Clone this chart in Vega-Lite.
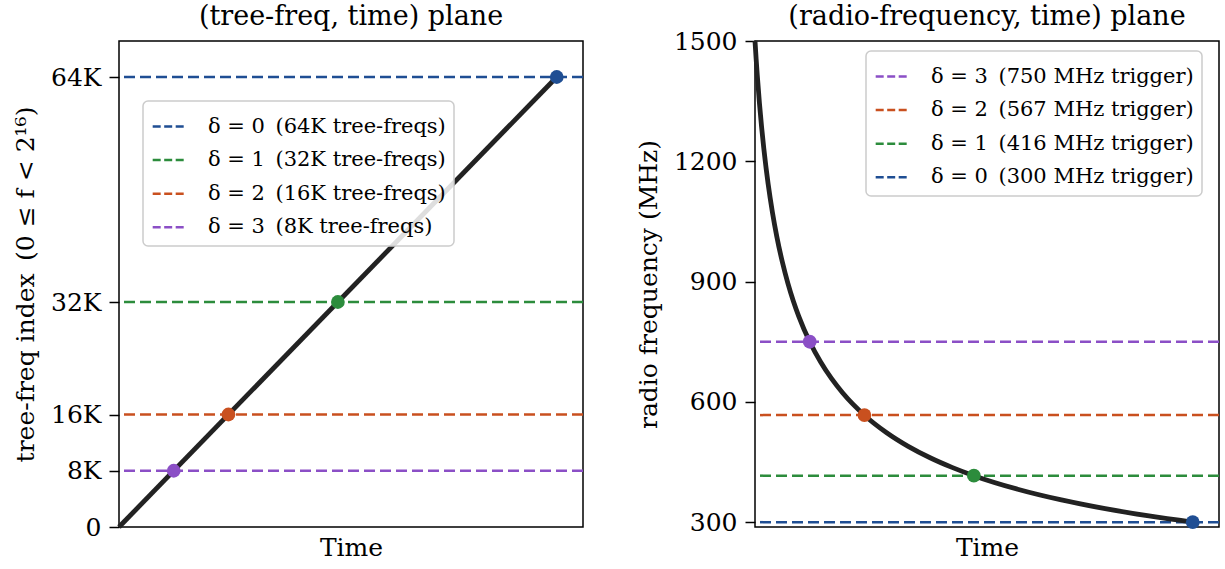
{
  "$schema": "https://vega.github.io/schema/vega-lite/v6.json",
  "padding": {"left": 12, "top": 2, "right": 5, "bottom": 5},
  "background": "white",
  "datasets": {
    "leftTrig": [
      {"label": "δ = 0\u2002(64K tree-freqs)", "f": 65536, "t": 1},
      {"label": "δ = 1\u2002(32K tree-freqs)", "f": 32768, "t": 0.5},
      {"label": "δ = 2\u2002(16K tree-freqs)", "f": 16384, "t": 0.25},
      {"label": "δ = 3\u2002(8K tree-freqs)", "f": 8192, "t": 0.125}
    ],
    "leftLine": [
      {"t": 0, "f": 0},
      {"t": 1, "f": 65536}
    ],
    "rightTrig": [
      {"label": "δ = 3\u2002(750 MHz trigger)", "freq": 750, "t": 0.125},
      {"label": "δ = 2\u2002(567 MHz trigger)", "freq": 567, "t": 0.25},
      {"label": "δ = 1\u2002(416 MHz trigger)", "freq": 416, "t": 0.5},
      {"label": "δ = 0\u2002(300 MHz trigger)", "freq": 300, "t": 1}
    ],
    "rightCurve": [
      {"t": 0, "freq": 1500},
      {"t": 0.0025, "freq": 1456.9},
      {"t": 0.005, "freq": 1417.4},
      {"t": 0.01, "freq": 1347.0},
      {"t": 0.015, "freq": 1286.2},
      {"t": 0.02, "freq": 1233.0},
      {"t": 0.03, "freq": 1143.7},
      {"t": 0.04, "freq": 1071.4},
      {"t": 0.05, "freq": 1011.3},
      {"t": 0.0625, "freq": 948.7},
      {"t": 0.075, "freq": 896.4},
      {"t": 0.0875, "freq": 851.9},
      {"t": 0.1, "freq": 813.5},
      {"t": 0.125, "freq": 750.0},
      {"t": 0.15, "freq": 699.4},
      {"t": 0.175, "freq": 657.8},
      {"t": 0.2, "freq": 622.8},
      {"t": 0.25, "freq": 566.9},
      {"t": 0.3, "freq": 523.8},
      {"t": 0.35, "freq": 489.2},
      {"t": 0.4, "freq": 460.7},
      {"t": 0.45, "freq": 436.7},
      {"t": 0.5, "freq": 416.0},
      {"t": 0.6, "freq": 382.2},
      {"t": 0.7, "freq": 355.5},
      {"t": 0.8, "freq": 333.7},
      {"t": 0.9, "freq": 315.5},
      {"t": 1.0, "freq": 300.0}
    ]
  },
  "spacing": 50,
  "resolve": {
    "scale": {"color": "independent", "x": "independent", "y": "independent"},
    "legend": {"color": "independent"}
  },
  "hconcat": [
    {
      "width": 464,
      "height": 486,
      "title": {"text": "(tree-freq, time) plane", "offset": 10},
      "layer": [
        {
          "data": {"name": "leftTrig"},
          "mark": {"type": "rule", "strokeWidth": 2.5, "strokeDash": [11, 5]},
          "encoding": {
            "y": {
              "field": "f", "type": "quantitative",
              "scale": {"domain": [0, 70779], "nice": false, "zero": false},
              "axis": {
                "title": "tree-freq index\u2002(0 ≤ f < 2¹⁶)",
                "titleFont": "DejaVu Serif",
                "values": [0, 8192, 16384, 32768, 65536],
                "labelExpr": "datum.value == 0 ? '0' : (datum.value / 1024) + 'K'"
              }
            },
            "color": {
              "field": "label", "type": "nominal",
              "scale": {
                "domain": ["δ = 0\u2002(64K tree-freqs)", "δ = 1\u2002(32K tree-freqs)", "δ = 2\u2002(16K tree-freqs)", "δ = 3\u2002(8K tree-freqs)"],
                "range": ["#1f4e93", "#2c8c3c", "#c9501f", "#8b4fc6"]
              },
              "legend": {"title": null, "orient": "none", "legendX": 24, "legendY": 60}
            }
          }
        },
        {
          "data": {"name": "leftLine"},
          "mark": {"type": "line", "color": "#222222", "strokeWidth": 4.8},
          "encoding": {
            "x": {
              "field": "t", "type": "quantitative",
              "scale": {"domain": [0, 1.06], "nice": false},
              "axis": {"title": "Time", "titleFont": "DejaVu Serif", "ticks": false, "labels": false}
            },
            "y": {"field": "f", "type": "quantitative"}
          }
        },
        {
          "data": {"name": "leftTrig"},
          "mark": {"type": "point", "filled": true, "size": 190, "opacity": 1},
          "encoding": {
            "x": {"field": "t", "type": "quantitative"},
            "y": {"field": "f", "type": "quantitative"},
            "color": {"field": "label", "type": "nominal", "legend": null}
          }
        }
      ]
    },
    {
      "width": 464,
      "height": 486,
      "title": {"text": "(radio-frequency, time) plane", "offset": -2},
      "layer": [
        {
          "data": {"name": "rightTrig"},
          "mark": {"type": "rule", "strokeWidth": 2.5, "strokeDash": [11, 5]},
          "encoding": {
            "y": {
              "field": "freq", "type": "quantitative",
              "scale": {"domain": [288, 1500], "nice": false, "zero": false},
              "axis": {
                "title": "radio frequency (MHz)",
                "titleFont": "DejaVu Serif",
                "values": [300, 600, 900, 1200, 1500],
                "format": "d"
              }
            },
            "color": {
              "field": "label", "type": "nominal",
              "scale": {
                "domain": ["δ = 3\u2002(750 MHz trigger)", "δ = 2\u2002(567 MHz trigger)", "δ = 1\u2002(416 MHz trigger)", "δ = 0\u2002(300 MHz trigger)"],
                "range": ["#8b4fc6", "#c9501f", "#2c8c3c", "#1f4e93"]
              },
              "legend": {"title": null, "orient": "none", "legendX": 111, "legendY": 10}
            }
          }
        },
        {
          "data": {"name": "rightCurve"},
          "mark": {"type": "line", "color": "#222222", "strokeWidth": 4.8, "interpolate": "monotone"},
          "encoding": {
            "x": {
              "field": "t", "type": "quantitative",
              "scale": {"domain": [0, 1.06], "nice": false},
              "axis": {"title": "Time", "titleFont": "DejaVu Serif", "ticks": false, "labels": false}
            },
            "y": {"field": "freq", "type": "quantitative"}
          }
        },
        {
          "data": {"name": "rightTrig"},
          "mark": {"type": "point", "filled": true, "size": 190, "opacity": 1},
          "encoding": {
            "x": {"field": "t", "type": "quantitative"},
            "y": {"field": "freq", "type": "quantitative"},
            "color": {"field": "label", "type": "nominal", "legend": null}
          }
        }
      ]
    }
  ],
  "config": {
    "font": "DejaVu Serif",
    "view": {"stroke": "black", "strokeWidth": 1.5},
    "title": {"font": "DejaVu Serif", "fontSize": 27, "fontWeight": "normal", "color": "black"},
    "axis": {
      "labelFont": "DejaVu Serif", "titleFont": "DejaVu Serif",
      "labelFontSize": 25, "titleFontSize": 25, "titleFontWeight": "normal",
      "labelColor": "black", "titleColor": "black",
      "tickColor": "black", "tickSize": 10, "tickWidth": 1.5,
      "domain": false, "grid": false,
      "labelPadding": 8, "titlePadding": 12
    },
    "axisX": {"titlePadding": 8},
    "legend": {
      "labelFont": "DejaVu Serif", "labelFontSize": 21, "labelColor": "black",
      "symbolType": "stroke", "symbolSize": 1000, "symbolStrokeWidth": 2.5,
      "symbolDash": [8, 3.5],
      "fillColor": "rgba(255,255,255,0.85)", "strokeColor": "#cccccc", "strokeWidth": 1.5,
      "cornerRadius": 5, "padding": 8, "rowPadding": 5.6, "labelOffset": 22,
      "labelLimit": 400
    }
  }
}
